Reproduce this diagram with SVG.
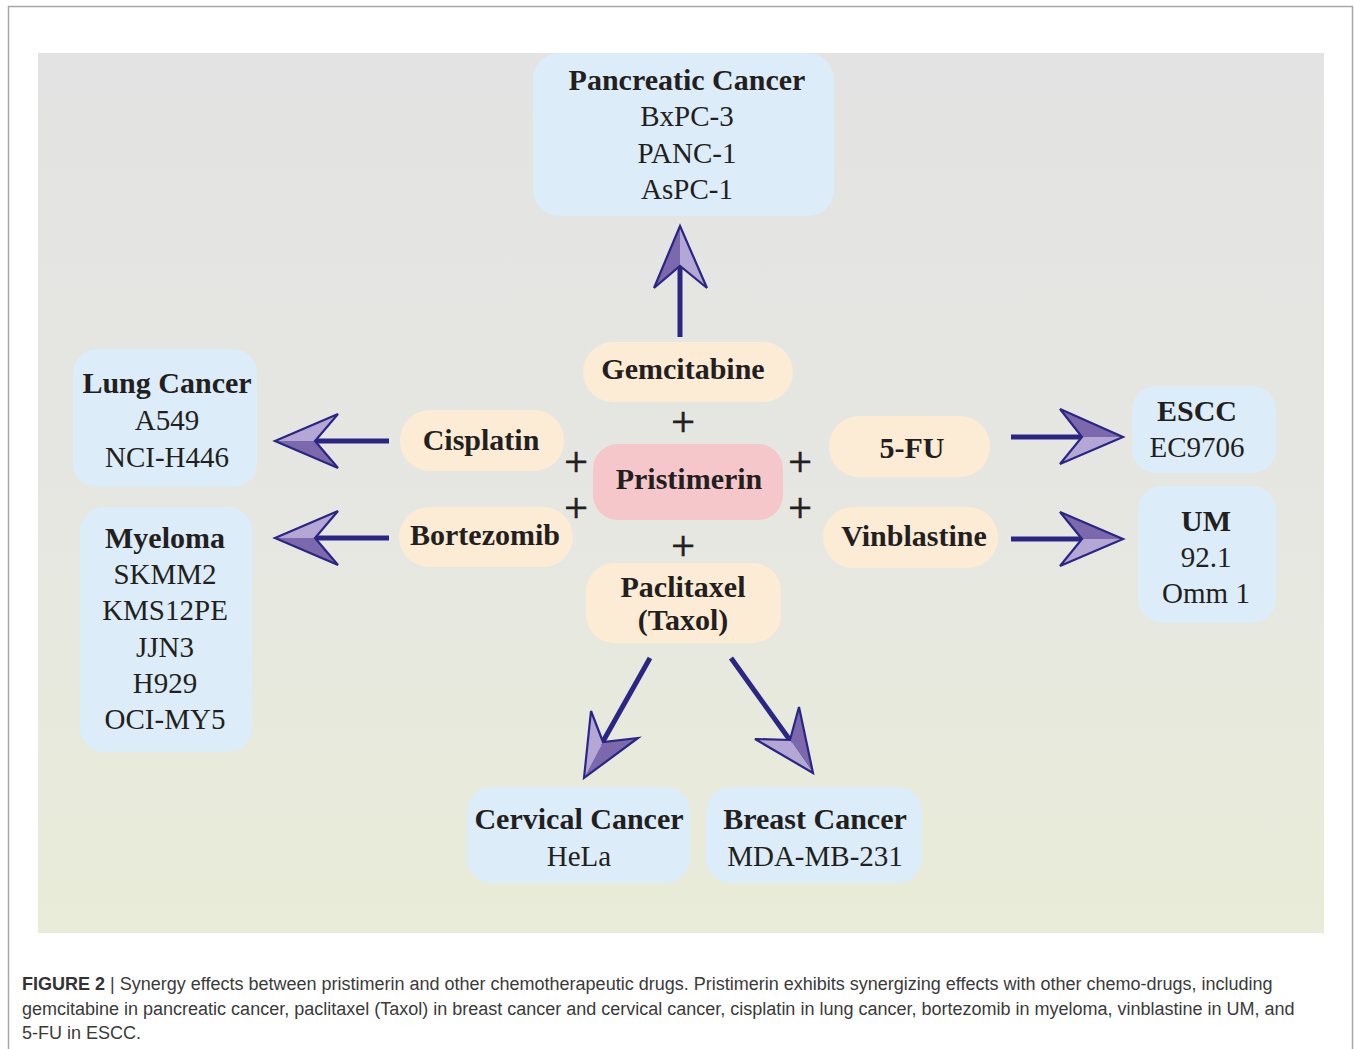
<svg xmlns="http://www.w3.org/2000/svg" width="1354" height="1049" viewBox="0 0 1354 1049">
<defs>
<linearGradient id="bg" x1="0" y1="0" x2="0" y2="1">
<stop offset="0" stop-color="#e3e3e3"/>
<stop offset="0.55" stop-color="#e6e7e1"/>
<stop offset="1" stop-color="#e9ecd8"/>
</linearGradient>
<style>
.cell{fill:#dcecf8}
.drug{fill:#fcebd5}
.core{fill:#f5c6ca}
.b{font-family:"Liberation Serif","Times New Roman",serif;font-weight:bold;font-size:30px;fill:#231f20;text-anchor:middle}
.r{font-family:"Liberation Serif","Times New Roman",serif;font-size:29px;fill:#231f20;text-anchor:middle}
.plus{font-family:"Liberation Serif","Times New Roman",serif;font-size:42px;fill:#231f20;stroke:#231f20;stroke-width:0.7;text-anchor:middle}
.ln{stroke:#2b2683;stroke-width:5;fill:none}
.hd{fill:#7b68ad;stroke:none}
.hl{fill:#b4a7d5;stroke:none}
.ho{fill:none;stroke:#2b2683;stroke-width:2.2;stroke-linejoin:miter}
.cap{font-family:"Liberation Sans",Arial,sans-serif;font-size:18px;fill:#3a3a3a}
</style>
</defs>
<rect x="0" y="0" width="1354" height="1049" fill="#ffffff"/>
<rect x="8.5" y="6.5" width="1344" height="1060" fill="none" stroke="#a8a8a8" stroke-width="1.5"/>
<rect x="38" y="53" width="1286" height="880" fill="url(#bg)"/>

<g id="connectors">
<line class="ln" x1="680" y1="337" x2="680" y2="262"/>
<path class="hd" d="M680,226 L654,288 L680,266 Z"/>
<path class="hl" d="M680,226 L707,288 L680,266 Z"/>
<path class="ho" d="M680,226 L707,288 L680,266 L654,288 Z"/>
<line class="ln" x1="389" y1="441" x2="311" y2="441"/>
<path class="hl" d="M275,441 L338,414 L315,441 Z"/>
<path class="hd" d="M275,441 L338,468 L315,441 Z"/>
<path class="ho" d="M275,441 L338,414 L315,441 L338,468 Z"/>
<line class="ln" x1="389" y1="538" x2="311" y2="538"/>
<path class="hl" d="M275,538 L338,511 L315,538 Z"/>
<path class="hd" d="M275,538 L338,565 L315,538 Z"/>
<path class="ho" d="M275,538 L338,511 L315,538 L338,565 Z"/>
<line class="ln" x1="1011" y1="437" x2="1086" y2="437"/>
<path class="hd" d="M1123,437 L1060,409 L1082,437 Z"/>
<path class="hl" d="M1123,437 L1060,464 L1082,437 Z"/>
<path class="ho" d="M1123,437 L1060,409 L1082,437 L1060,464 Z"/>
<line class="ln" x1="1011" y1="539" x2="1086" y2="539"/>
<path class="hd" d="M1123,539 L1060,512 L1082,539 Z"/>
<path class="hl" d="M1123,539 L1060,566 L1082,539 Z"/>
<path class="ho" d="M1123,539 L1060,512 L1082,539 L1060,566 Z"/>
<line class="ln" x1="650" y1="658" x2="601" y2="745"/>
<path class="hl" d="M584,778 L591,711 L603,742 Z"/>
<path class="hd" d="M584,778 L638,738 L603,742 Z"/>
<path class="ho" d="M584,778 L591,711 L603,742 L638,738 Z"/>
<line class="ln" x1="731" y1="658" x2="792" y2="743"/>
<path class="hd" d="M813,773 L799,707 L790,740 Z"/>
<path class="hl" d="M813,773 L755,739 L790,740 Z"/>
<path class="ho" d="M813,773 L799,707 L790,740 L755,739 Z"/>
</g>

<g id="pancreatic">
<rect class="cell" x="533" y="53" width="301" height="163" rx="26"/>
<text class="b" x="687" y="90">Pancreatic Cancer</text>
<text class="r" x="687" y="126">BxPC-3</text>
<text class="r" x="687" y="163">PANC-1</text>
<text class="r" x="687" y="199">AsPC-1</text>
</g>
<g id="lung">
<rect class="cell" x="73" y="349" width="184" height="138" rx="24"/>
<text class="b" x="167" y="393">Lung Cancer</text>
<text class="r" x="167" y="430">A549</text>
<text class="r" x="167" y="467">NCI-H446</text>
</g>
<g id="myeloma">
<rect class="cell" x="80" y="507" width="172" height="245" rx="24"/>
<text class="b" x="165" y="548">Myeloma</text>
<text class="r" x="165" y="584">SKMM2</text>
<text class="r" x="165" y="620">KMS12PE</text>
<text class="r" x="165" y="657">JJN3</text>
<text class="r" x="165" y="693">H929</text>
<text class="r" x="165" y="729">OCI-MY5</text>
</g>
<g id="escc">
<rect class="cell" x="1132" y="386" width="144" height="87" rx="24"/>
<text class="b" x="1197" y="421">ESCC</text>
<text class="r" x="1197" y="457">EC9706</text>
</g>
<g id="um">
<rect class="cell" x="1138" y="486" width="138" height="137" rx="24"/>
<text class="b" x="1206" y="531">UM</text>
<text class="r" x="1206" y="567">92.1</text>
<text class="r" x="1206" y="603">Omm 1</text>
</g>
<g id="cervical">
<rect class="cell" x="467" y="787" width="223" height="96" rx="24"/>
<text class="b" x="579" y="829">Cervical Cancer</text>
<text class="r" x="579" y="866">HeLa</text>
</g>
<g id="breast">
<rect class="cell" x="706" y="787" width="216" height="96" rx="24"/>
<text class="b" x="815" y="829">Breast Cancer</text>
<text class="r" x="815" y="866">MDA-MB-231</text>
</g>

<g id="gemcitabine">
<rect class="drug" x="583" y="342" width="210" height="60" rx="30"/>
<text class="b" x="683" y="379">Gemcitabine</text>
</g>
<g id="cisplatin">
<rect class="drug" x="400" y="410" width="164" height="61" rx="30"/>
<text class="b" x="481" y="450">Cisplatin</text>
</g>
<g id="bortezomib">
<rect class="drug" x="399" y="507" width="174" height="60" rx="30"/>
<text class="b" x="485" y="545">Bortezomib</text>
</g>
<g id="fivefu">
<rect class="drug" x="829" y="416" width="161" height="61" rx="30"/>
<text class="b" x="912" y="458">5-FU</text>
</g>
<g id="vinblastine">
<rect class="drug" x="823" y="507" width="175" height="61" rx="30"/>
<text class="b" x="914" y="546">Vinblastine</text>
</g>
<g id="paclitaxel">
<rect class="drug" x="586" y="563" width="195" height="80" rx="28"/>
<text class="b" x="683" y="597">Paclitaxel</text>
<text class="b" x="683" y="630">(Taxol)</text>
</g>
<g id="pristimerin">
<rect class="core" x="593" y="444" width="190" height="76" rx="25"/>
<text class="b" x="689" y="489">Pristimerin</text>
</g>

<g id="plus-signs">
<text class="plus" x="683" y="436">+</text>
<text class="plus" x="683" y="560">+</text>
<text class="plus" x="576" y="476">+</text>
<text class="plus" x="576" y="522">+</text>
<text class="plus" x="800" y="476">+</text>
<text class="plus" x="800" y="522">+</text>
</g>

<g id="caption">
<text class="cap" x="22" y="990"><tspan font-weight="bold" fill="#333">FIGURE 2</tspan> | Synergy effects between pristimerin and other chemotherapeutic drugs. Pristimerin exhibits synergizing effects with other chemo-drugs, including</text>
<text class="cap" x="22" y="1015">gemcitabine in pancreatic cancer, paclitaxel (Taxol) in breast cancer and cervical cancer, cisplatin in lung cancer, bortezomib in myeloma, vinblastine in UM, and</text>
<text class="cap" x="22" y="1039">5-FU in ESCC.</text>
</g>
</svg>
